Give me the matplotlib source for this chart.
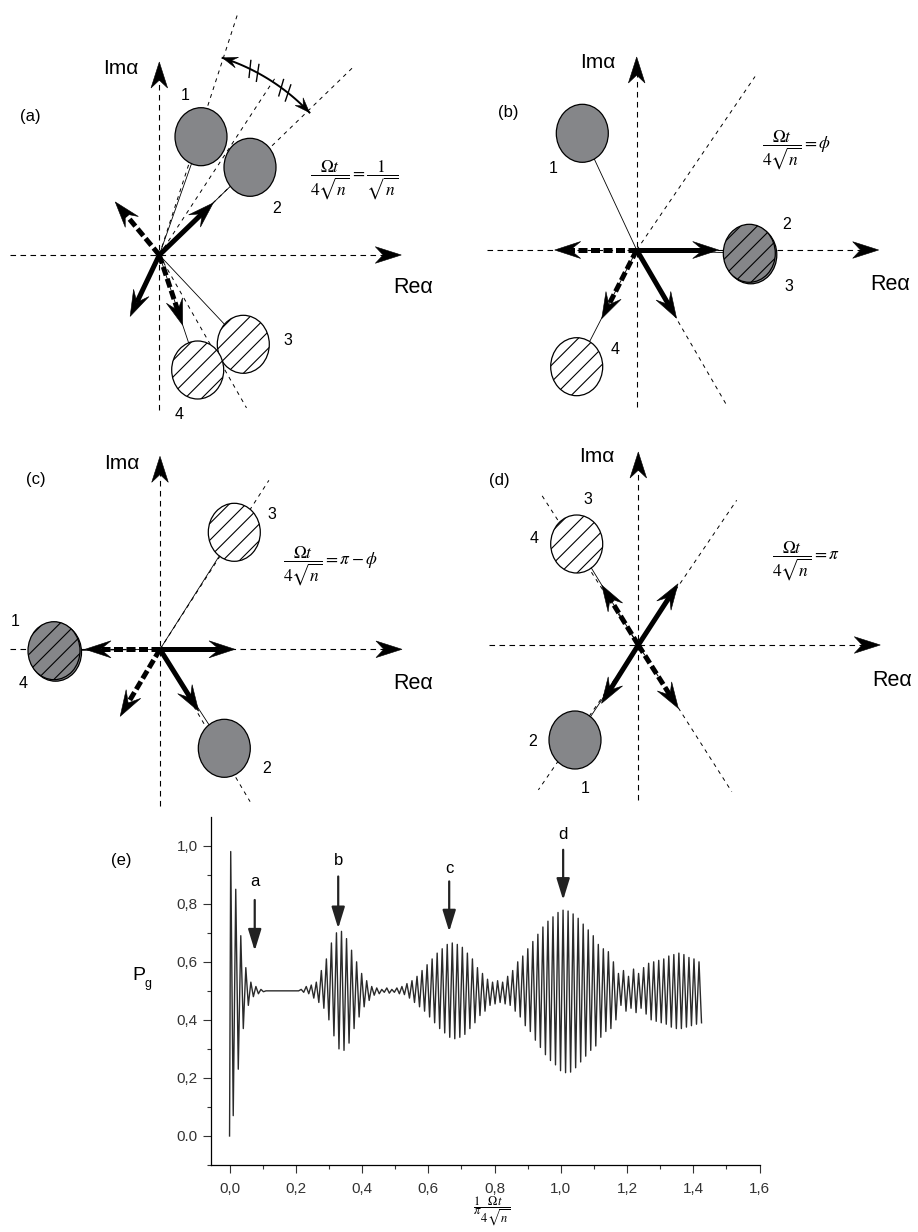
import numpy as np
import matplotlib
matplotlib.use("Agg")
import matplotlib.pyplot as plt
from matplotlib.patches import Ellipse, Polygon

plt.rcParams['font.family'] = ['Liberation Sans', 'DejaVu Sans']
plt.rcParams['mathtext.fontset'] = 'stix'
plt.rcParams['hatch.linewidth'] = 0.8

W, H = 918, 1232

# ---------------- data for panel (e): P_g, one max and one min per oscillation
t0, period = 0.0035, 0.0152
p_max = [0.98, 0.85, 0.69, 0.58, 0.53, 0.515, 0.505, 0.5, 0.5, 0.5,
         0.5, 0.5, 0.5, 0.5, 0.505, 0.515, 0.52, 0.53, 0.57, 0.61,
         0.665, 0.70, 0.705, 0.68, 0.64, 0.60, 0.56, 0.535, 0.515, 0.51,
         0.505, 0.51, 0.505, 0.51, 0.515, 0.525, 0.535, 0.55, 0.57, 0.59,
         0.61, 0.63, 0.645, 0.66, 0.665, 0.66, 0.65, 0.63, 0.61, 0.58,
         0.56, 0.54, 0.53, 0.535, 0.53, 0.55, 0.57, 0.60, 0.62, 0.645,
         0.67, 0.695, 0.72, 0.74, 0.755, 0.77, 0.778, 0.775, 0.765, 0.75,
         0.73, 0.71, 0.69, 0.66, 0.645, 0.635, 0.60, 0.56, 0.57, 0.55,
         0.575, 0.56, 0.58, 0.595, 0.60, 0.605, 0.61, 0.62, 0.625, 0.63,
         0.625, 0.615, 0.61, 0.60]
p_min = [0.07, 0.23, 0.37, 0.45, 0.48, 0.49, 0.497, 0.5, 0.5, 0.5,
         0.5, 0.5, 0.5, 0.5, 0.495, 0.49, 0.475, 0.46, 0.44, 0.40,
         0.345, 0.30, 0.295, 0.32, 0.37, 0.41, 0.445, 0.467, 0.485, 0.49,
         0.495, 0.492, 0.495, 0.49, 0.487, 0.475, 0.46, 0.445, 0.43, 0.41,
         0.39, 0.37, 0.355, 0.34, 0.335, 0.34, 0.35, 0.37, 0.39, 0.415,
         0.43, 0.45, 0.455, 0.46, 0.455, 0.45, 0.43, 0.41, 0.38, 0.36,
         0.33, 0.305, 0.28, 0.26, 0.245, 0.225, 0.218, 0.22, 0.235, 0.255,
         0.275, 0.295, 0.31, 0.34, 0.36, 0.37, 0.40, 0.45, 0.43, 0.44,
         0.425, 0.44, 0.42, 0.40, 0.395, 0.39, 0.385, 0.375, 0.37, 0.37,
         0.375, 0.38, 0.385, 0.39]

mark_labels = ['a', 'b', 'c', 'd']
mark_x = [0.076, 0.328, 0.663, 1.007]
mark_tail = [0.813, 0.894, 0.877, 0.986]
mark_tip = [0.638, 0.715, 0.704, 0.813]
mark_text_y = [0.877, 0.949, 0.923, 1.038]

x_ticks = [0.0, 0.2, 0.4, 0.6, 0.8, 1.0, 1.2, 1.4, 1.6]
x_ticklabels = ['0,0', '0,2', '0,4', '0,6', '0,8', '1,0', '1,2', '1,4', '1,6']
y_ticks = [0.0, 0.2, 0.4, 0.6, 0.8, 1.0]
y_ticklabels = ['0.0', '0,2', '0,4', '0,6', '0,8', '1,0']

# ---------------- data for the phase-plane sketches (a)-(d), pixel offsets from origin
panel_tags = ['(a)', '(b)', '(c)', '(d)']
panel_box = [(0, 0, 459, 420), (459, 0, 918, 420), (0, 420, 459, 815), (459, 420, 918, 815)]
panel_origin = [(159.3, 255), (636.7, 250), (160, 649.3), (638.3, 645)]
panel_axis = [(-149, 242, -155, 193), (-150, 242, -157, 193),
              (-150, 242, -157, 193), (-149, 242, -155, 193)]
panel_circles = [
    [(41.7, 118.3, 'g'), (90.7, 87.7, 'g'), (84, -89.3, 'h'), (38.4, -115, 'h')],
    [(-54.4, 116.7, 'g'), (112.6, -3.3, 'gh'), (-60, -116.7, 'h')],
    [(74.3, 117, 'h'), (-106, -1.4, 'gh'), (64.3, -99, 'g')],
    [(-61.6, 101, 'h'), (-63.3, -95, 'g')],
]
panel_numbers = [
    [('1', 25.7, 160), ('2', 117.4, 46.7), ('3', 129, -85.7), ('4', 20, -160)],
    [('1', -83.4, 81.7), ('2', 150, 25), ('3', 152.6, -36.7), ('4', -21.7, -100)],
    [('1', -145, 27.6), ('4', -137.3, -34), ('3', 111.7, 134.3), ('2', 106.7, -119)],
    [('3', -50, 146), ('4', -104.3, 106.7), ('2', -105.6, -96.7), ('1', -53.3, -143.3)],
]
panel_guides = [
    [(72, 254), (56.8, 211), (44.1, 270), (-60.3, 176)],
    [(55.7, 210), (-59.9, 179)],
    [(57.2, 201), (-59.4, 177)],
    [(122.8, 178), (-57.5, 174), (55.8, 175), (235.4, 176)],
]
panel_arrows = [
    [(44, 75, False), (244.6, 68, False), (129.7, 69, True), (-71.6, 74, True)],
    [(0, 82, False), (-59.7, 79, False), (180, 82, True), (-117, 77, True)],
    [(0, 75, False), (-58, 73, False), (180, 75, True), (-120.7, 78, True)],
    [(57, 73, False), (237.8, 69, False), (121.4, 70, True), (-57.7, 75, True)],
]
panel_im_xy = [(-38.3, 187), (-39.2, 187), (-38.3, 186), (-41.3, 188.3)]
panel_re_xy = [(253.7, -33), (253.3, -35), (253, -34), (253.4, -35)]
panel_tag_xy = [(-129.3, 138), (-128.7, 137), (-124, 169.3), (-139.3, 165)]
panel_formula = [r'$\dfrac{\Omega t}{4\sqrt{n}}=\dfrac{1}{\sqrt{n}}$',
                 r'$\dfrac{\Omega t}{4\sqrt{n}}=\phi$',
                 r'$\dfrac{\Omega t}{4\sqrt{n}}=\pi-\phi$',
                 r'$\dfrac{\Omega t}{4\sqrt{n}}=\pi$']
panel_formula_xy = [(195, 75), (160, 100), (170, 82.6), (167.5, 83.3)]

# angle markers in (a)
arc_r, arc_from, arc_to = 207, 43.5, 72.2
arc_ticks = [62.8, 52.7]

GRAY = '#858689'


def head(ax, x, y, ang, hl, hw, notch, z=6):
    c, s = np.cos(np.radians(ang)), np.sin(np.radians(ang))
    pts = np.array([[0, 0], [-hl, hw], [-notch * hl, 0], [-hl, -hw]])
    rot = np.array([[c, -s], [s, c]])
    pts = pts @ rot.T + [x, y]
    ax.add_patch(Polygon(pts, closed=True, fc='black', ec='black', lw=0.4, zorder=z))


def ray(ang, r):
    return r * np.cos(np.radians(ang)), r * np.sin(np.radians(ang))


fig = plt.figure(figsize=(W / 100, H / 100), dpi=100)
fig.patch.set_facecolor('white')

for i in range(4):
    l, t, r, b = panel_box[i]
    ox, oy = panel_origin[i]
    ax = fig.add_axes([l / W, 1 - b / H, (r - l) / W, (b - t) / H])
    ax.set_xlim(l - ox, r - ox)
    ax.set_ylim(oy - b, oy - t)
    ax.axis('off')

    # coordinate axes
    xl, xr, yb, yt = panel_axis[i]
    ax.plot([xl, xr - 15], [0, 0], color='black', lw=0.8, ls=(0, (5, 4)), zorder=1)
    ax.plot([0, 0], [yb, yt - 15], color='black', lw=0.8, ls=(0, (5, 4)), zorder=1)
    head(ax, xr, 0, 0, 26, 8.3, 0.7, z=2)
    head(ax, 0, yt, 90, 26, 8.3, 0.7, z=2)

    for ang, rr in panel_guides[i]:
        gx, gy = ray(ang, rr)
        ax.plot([0, gx], [0, gy], color='black', lw=0.7, ls=(0, (4, 4.5)), zorder=1)

    for cx, cy, st in panel_circles[i]:
        ax.plot([0, cx], [0, cy], color='black', lw=0.6, zorder=2)
        if st == 'g':
            ax.add_patch(Ellipse((cx, cy), 52, 58, fc=GRAY, ec='black', lw=0.9, zorder=3))
        elif st == 'h':
            ax.add_patch(Ellipse((cx, cy), 52, 58, fc='white', ec='black', lw=0.9,
                                 hatch='//', zorder=3))
        else:
            ax.add_patch(Ellipse((cx + 1.5, cy - 1.5), 52, 58, fc=GRAY, ec='black',
                                 lw=0.9, zorder=3))
            ax.add_patch(Ellipse((cx, cy), 52, 58, fc=GRAY, ec='black', lw=0.9,
                                 hatch='//', zorder=3))

    for ang, length, dashed in panel_arrows[i]:
        hl = 26
        sx, sy = ray(ang, length - 0.6 * hl)
        ls = (0, (1.8, 0.7)) if dashed else '-'
        ax.plot([0, sx], [0, sy], color='black', lw=3.6, ls=ls,
                solid_capstyle='butt', dash_capstyle='butt', zorder=5)
        tx, ty = ray(ang, length)
        head(ax, tx, ty, ang, hl, 8.5, 0.6)

    for txt, nx, ny in panel_numbers[i]:
        ax.text(nx, ny, txt, fontsize=11.5, ha='center', va='center', zorder=7)
    ax.text(*panel_im_xy[i], 'Im\u03b1', fontsize=15, ha='center', va='center')
    ax.text(*panel_re_xy[i], 'Re\u03b1', fontsize=15.5, ha='center', va='center')
    ax.text(*panel_tag_xy[i], panel_tags[i], fontsize=12, ha='center', va='center')
    ax.text(*panel_formula_xy[i], panel_formula[i], fontsize=12.5, ha='center', va='center')

    if i == 0:
        th = np.linspace(arc_from, arc_to, 60)
        ax.plot(arc_r * np.cos(np.radians(th)), arc_r * np.sin(np.radians(th)),
                color='black', lw=1.4, zorder=4)
        ex, ey = ray(arc_to, arc_r)
        head(ax, ex, ey, arc_to + 90, 15, 5.5, 0.6)
        ex, ey = ray(arc_from, arc_r)
        head(ax, ex, ey, arc_from - 90, 15, 5.5, 0.6)
        for a in arc_ticks:
            for d in (-1.2, 1.2):
                x1, y1 = ray(a + d - 0.8, arc_r - 8)
                x2, y2 = ray(a + d + 0.8, arc_r + 8)
                ax.plot([x1, x2], [y1, y2], color='black', lw=1.0, zorder=4)

# ---------------- panel (e)
n = len(p_max)
t_hi = t0 + period * np.arange(n)
t = np.empty(2 * n + 1)
p = np.empty(2 * n + 1)
t[0], p[0] = 0.0, 0.0
t[1::2], p[1::2] = t_hi, p_max
t[2::2], p[2::2] = t_hi + period / 2, p_min

ax = fig.add_axes([211 / W, 1 - 1165 / H, 548.6 / W, 348.3 / H])
ax.plot(t, p, color='#2a2a2a', lw=1.0)
ax.set_xlim(-0.056, 1.6)
ax.set_ylim(-0.1, 1.1)
for sp in ['top', 'right']:
    ax.spines[sp].set_visible(False)
for sp in ['left', 'bottom']:
    ax.spines[sp].set_linewidth(0.9)
ax.set_xticks(x_ticks)
ax.set_xticklabels(x_ticklabels)
ax.set_yticks(y_ticks)
ax.set_yticklabels(y_ticklabels)
ax.set_xticks(np.arange(0.1, 1.6, 0.2), minor=True)
ax.set_yticks([-0.1, 0.1, 0.3, 0.5, 0.7, 0.9], minor=True)
ax.tick_params(which='major', length=6, width=0.8, labelsize=11, colors='#333333')
ax.tick_params(axis='x', which='major', pad=6)
ax.tick_params(which='minor', length=3, width=0.8, colors='#333333')

for lab, mx, tail, tip, ty in zip(mark_labels, mark_x, mark_tail, mark_tip, mark_text_y):
    ax.annotate('', xy=(mx, tip), xytext=(mx, tail),
                arrowprops=dict(arrowstyle='-|>,head_length=0.65,head_width=0.2',
                                color='#222222', lw=1.6, shrinkA=0, shrinkB=0,
                                mutation_scale=20))
    ax.text(mx, ty, lab, fontsize=12, ha='center', va='center')

fig.text(121.7 / W, 1 - 860 / H, '(e)', fontsize=12, ha='center', va='center')
fig.text(138.5 / W, 1 - 976 / H, 'P', fontsize=14, ha='center', va='center')
fig.text(148 / W, 1 - 984 / H, 'g', fontsize=9, ha='center', va='center')
fig.text(491.7 / W, 1 - 1211 / H, r'$\dfrac{1}{\pi}\dfrac{\Omega t}{4\sqrt{n}}$',
         fontsize=9, ha='center', va='center')

fig.savefig('out.png', dpi=100)
